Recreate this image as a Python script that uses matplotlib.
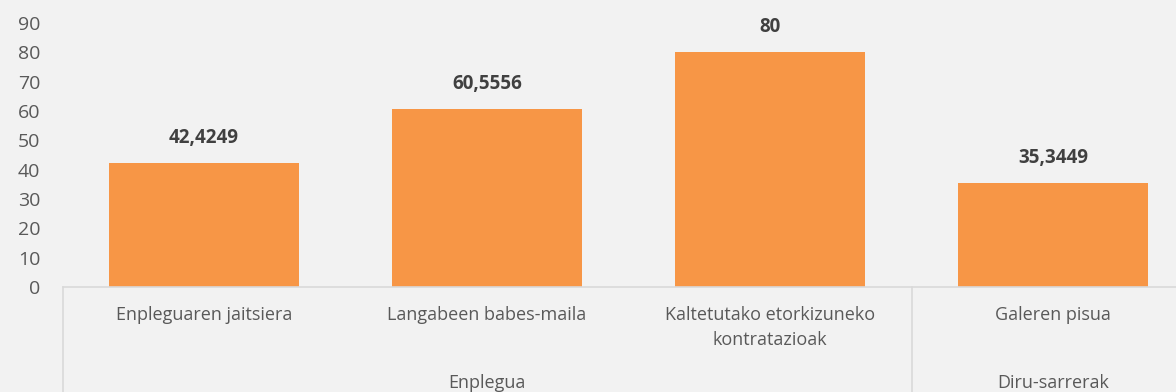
import matplotlib
matplotlib.use("Agg")
import matplotlib.pyplot as plt
from matplotlib.transforms import blended_transform_factory

# Bar values per indicator, grouped into two families
categories = ["Enpleguaren jaitsiera", "Langabeen babes-maila",
              "Kaltetutako etorkizuneko\nkontratazioak", "Galeren pisua"]
values = [42.4249, 60.5556, 80, 35.3449]
value_labels = ["42,4249", "60,5556", "80", "35,3449"]
groups = ["Enplegua", "Diru-sarrerak"]
group_spans = [(0, 3), (3, 4)]   # [start, end) category indices

BG = "#f2f2f2"
BAR = "#f79646"
TXT = "#595959"
LINE = "#d9d9d9"

plt.rcParams["font.family"] = ["Open Sans", "DejaVu Sans"]

fig = plt.figure(figsize=(11.76, 3.92), dpi=100, facecolor=BG)
ax = fig.add_axes([62.5 / 1176, 1 - 287 / 392, 1132 / 1176, 264 / 392])
ax.set_facecolor(BG)

x = list(range(len(values)))
ax.bar(x, values, width=0.67, color=BAR, zorder=2)
ax.set_xlim(-0.5, len(values) - 0.5)
ax.set_ylim(0, 90)
ax.set_yticks(range(0, 91, 10))
ax.tick_params(axis="y", length=0, labelsize=14, labelcolor=TXT, pad=16)
ax.set_xticks([])
for s in ax.spines.values():
    s.set_visible(False)

# value labels above the bars
for xi, v, lab in zip(x, values, value_labels):
    ax.annotate(lab, (xi, v), xytext=(0, 18), textcoords="offset points",
                ha="center", va="center", fontsize=13.5, fontweight="bold",
                color="#404040")

trans = blended_transform_factory(ax.transData, ax.transAxes)

# category axis: baseline and group separators
ax.plot([-0.5, len(values) - 0.5], [0, 0], color=LINE, lw=1.2,
        transform=trans, clip_on=False, zorder=3)
for start, end in group_spans:
    ax.plot([start - 0.5, start - 0.5], [0, -0.41], color=LINE, lw=1.2,
            transform=trans, clip_on=False)

for xi, cat in zip(x, categories):
    ax.annotate(cat, (xi, 0), xycoords=trans, xytext=(0, -14),
                textcoords="offset points", ha="center", va="top",
                fontsize=13, color=TXT, linespacing=1.5)

for g, (start, end) in zip(groups, group_spans):
    ax.annotate(g, ((start + end - 1) / 2, 0), xycoords=trans,
                xytext=(0, -69), textcoords="offset points",
                ha="center", va="center", fontsize=13, color=TXT)

fig.savefig("out.png", dpi=100, facecolor=BG)
